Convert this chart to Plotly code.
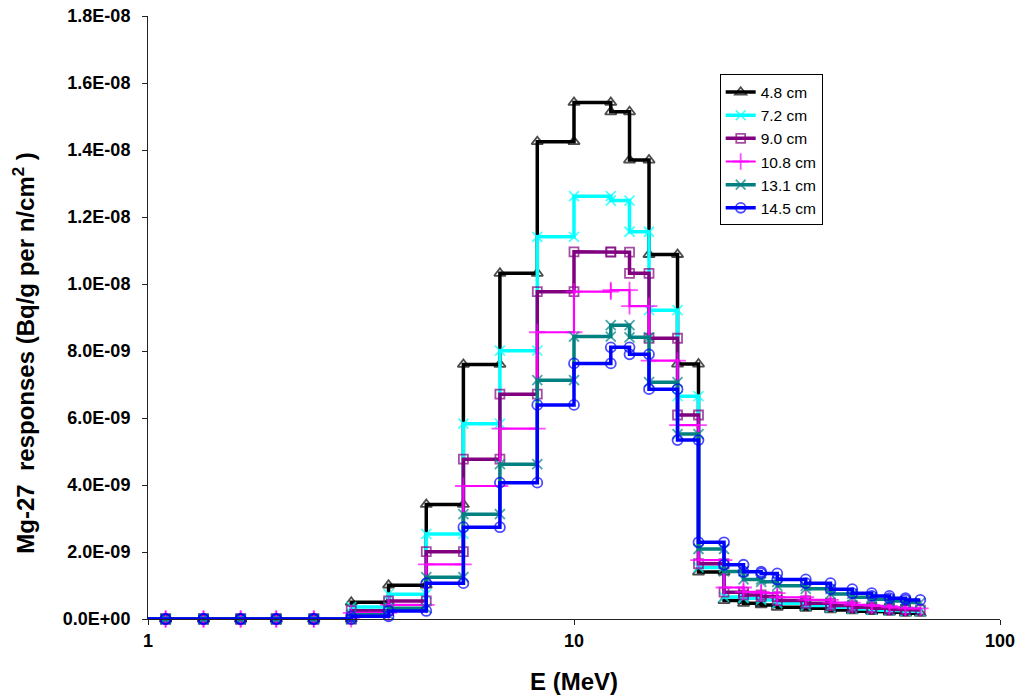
import plotly.graph_objects as go

# Energy group boundaries (MeV)
edges_mev = [1.0, 1.1, 1.35, 1.65, 2.0, 2.45, 3.0, 3.67, 4.5, 5.5, 6.7, 8.2, 10.0,
             12.2, 13.5, 15.0, 17.5, 19.6, 22.5, 25.0, 27.5, 30.0, 35.0, 40.0,
             45.0, 50.0, 55.0, 60.0, 65.0]

series_names = ["4.8 cm", "7.2 cm", "9.0 cm", "10.8 cm", "13.1 cm", "14.5 cm"]

# responses per energy group, in units of 1E-09 Bq/g per n/cm^2
resp_4_8 = [0, 0, 0, 0, 0, 0, 0.50, 1.01, 3.42, 7.60, 10.32, 14.25, 15.42, 15.14,
            13.70, 10.88, 7.61, 1.40, 0.55, 0.47, 0.42, 0.35, 0.32, 0.27, 0.24,
            0.22, 0.20, 0.17]
resp_7_2 = [0, 0, 0, 0, 0, 0, 0.36, 0.74, 2.54, 5.83, 8.01, 11.41, 12.62, 12.49,
            11.56, 9.22, 6.65, 1.54, 0.66, 0.62, 0.57, 0.47, 0.40, 0.35, 0.30,
            0.27, 0.25, 0.23]
resp_9_0 = [0, 0, 0, 0, 0, 0, 0.25, 0.54, 2.01, 4.77, 6.71, 9.77, 10.96, 10.95,
            10.32, 8.38, 6.09, 1.65, 0.80, 0.72, 0.67, 0.55, 0.47, 0.40, 0.35,
            0.32, 0.29, 0.27]
resp_10_8 = [0, 0, 0, 0, 0, 0, 0.18, 0.42, 1.63, 3.97, 5.68, 8.56, 9.77, 9.82,
             9.34, 7.71, 5.79, 1.76, 0.94, 0.81, 0.77, 0.65, 0.57, 0.49, 0.42,
             0.39, 0.35, 0.32]
resp_13_1 = [0, 0, 0, 0, 0, 0, 0.13, 0.32, 1.25, 3.13, 4.62, 7.13, 8.43, 8.77,
             8.41, 7.07, 5.52, 2.09, 1.42, 1.18, 1.11, 0.99, 0.90, 0.75, 0.65,
             0.59, 0.54, 0.49]
resp_14_5 = [0, 0, 0, 0, 0, 0, 0.08, 0.24, 1.07, 2.74, 4.07, 6.39, 7.63, 8.11,
             7.90, 6.86, 5.34, 2.29, 1.62, 1.41, 1.36, 1.18, 1.07, 0.89, 0.77,
             0.69, 0.62, 0.57]
unit = 1e-9

y_tick_vals = [0, 2e-9, 4e-9, 6e-9, 8e-9, 1e-8, 1.2e-8, 1.4e-8, 1.6e-8, 1.8e-8]
y_tick_text = ["0.0E+00", "2.0E-09", "4.0E-09", "6.0E-09", "8.0E-09", "1.0E-08",
               "1.2E-08", "1.4E-08", "1.6E-08", "1.8E-08"]
x_tick_vals = [1, 10, 100]
x_tick_text = ["1", "10", "100"]

all_resp = [resp_4_8, resp_7_2, resp_9_0, resp_10_8, resp_13_1, resp_14_5]

styles = [
    dict(color="#000000", symbol="triangle-up-open", size=10, lw=3.5),
    dict(color="#00FFFF", symbol="x-thin-open", size=10, lw=3.5),
    dict(color="#800080", symbol="square-open", size=9, lw=3.5),
    dict(color="#FF00FF", symbol="cross-thin-open", size=12, lw=2.2),
    dict(color="#008080", symbol="x-thin-open", size=10, lw=3.5),
    dict(color="#0000FF", symbol="circle-open", size=10, lw=3.5),
]


def step_points(edges, vals):
    xs, ys = [], []
    for i, v in enumerate(vals):
        xs += [edges[i], edges[i + 1]]
        ys += [v * unit, v * unit]
    return xs, ys


fig = go.Figure()
for name, vals, st in zip(series_names, all_resp, styles):
    xs, ys = step_points(edges_mev, vals)
    sizes = [st["size"]] * len(xs)
    sizes[0] = 0
    fig.add_trace(go.Scatter(
        x=xs, y=ys, name=name, mode="lines+markers",
        line=dict(color=st["color"], width=st["lw"]),
        marker=dict(symbol=st["symbol"], size=sizes, color=st["color"],
                    line=dict(color=st["color"], width=1.8)),
        cliponaxis=False,
    ))

font_family = "Liberation Sans, Arial, sans-serif"

fig.update_layout(
    width=1021, height=700, autosize=False,
    margin=dict(l=148, r=21, t=16, b=81, autoexpand=False),
    paper_bgcolor="white", plot_bgcolor="white",
    font=dict(family=font_family, color="black"),
    showlegend=True,
    legend=dict(x=0.671, y=0.903, xanchor="left", yanchor="top",
                bgcolor="white", bordercolor="black", borderwidth=1,
                font=dict(size=15.5, family=font_family),
                itemwidth=30, tracegroupgap=0),
    xaxis=dict(type="log", range=[0, 2], tickvals=x_tick_vals, ticktext=x_tick_text,
               automargin=False,
               showgrid=False, zeroline=False, showline=True, linecolor="#222",
               linewidth=1, ticks="outside", ticklen=5, tickcolor="#222",
               tickfont=dict(size=18, weight="bold", family=font_family)),
    yaxis=dict(range=[0, 1.8e-8], tickvals=y_tick_vals, ticktext=y_tick_text,
               automargin=False,
               showgrid=False, zeroline=False, showline=True, linecolor="#222",
               linewidth=1, ticks="outside", ticklen=5, tickcolor="#222",
               ticklabelstandoff=8,
               tickfont=dict(size=18, weight="bold", family=font_family)),
    annotations=[
        dict(text="Mg-27\u00a0 responses (Bq/g per n/cm<sup>2</sup> )",
             xref="paper", yref="paper", x=-0.146, y=0.441,
             xanchor="center", yanchor="middle", textangle=-90, showarrow=False,
             font=dict(size=24, weight="bold", family=font_family)),
        dict(text="E (MeV)", xref="paper", yref="paper", x=0.5, y=-0.104,
             xanchor="center", yanchor="middle", showarrow=False,
             font=dict(size=24, weight="bold", family=font_family)),
    ],
)

fig.write_html("out.html")
